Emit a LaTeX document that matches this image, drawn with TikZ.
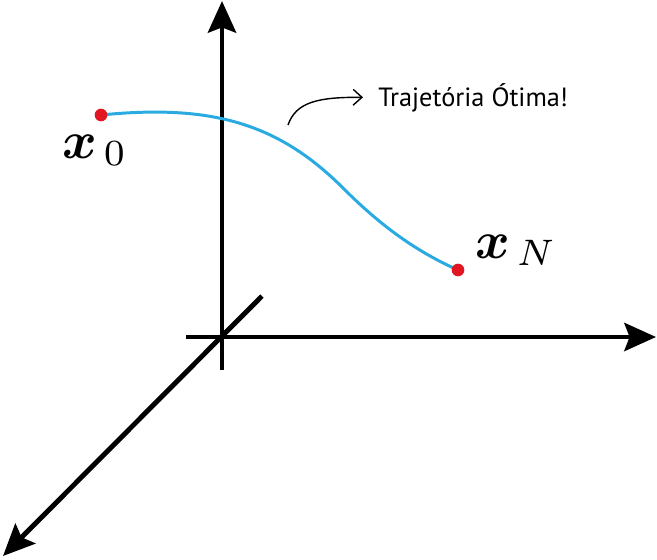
\documentclass[tikz,border=0pt]{standalone}
\usepackage{amsmath}
\usepackage{fontspec}
\newfontfamily\notefont{PT Sans}
\usepackage{xcolor}
\usepackage{tikz}
\usetikzlibrary{arrows.meta,positioning}

\definecolor{trajblue}{RGB}{41,171,226}
\definecolor{dotred}{RGB}{226,22,34}

\begin{document}
\begin{tikzpicture}[
  x=0.02cm, y=-0.02cm,
  axis/.style={line width=2.8pt, -{Stealth[length=18pt,width=16pt,inset=3pt]}},
  traj/.style={line width=1.7pt, trajblue},
  dot/.style={circle, fill=dotred, minimum size=7.2pt, inner sep=0pt},
  state/.style={scale=3.0, transform shape, inner sep=0pt, anchor=base west},
  note/.style={font=\notefont\fontsize{15}{18}\selectfont, inner xsep=8.5pt, inner ysep=0pt, anchor=base west},
  pointer/.style={line width=0.8pt, -{Straight Barb[length=5pt,width=9pt]}}
]
\useasboundingbox (0,0) rectangle (657,559);

% axes
\coordinate (origin) at (222,337);
\coordinate (ztop) at (222,1);
\coordinate (zbot) at (222,370);
\coordinate (xleft) at (186,337);
\coordinate (xright) at (656,337);
\coordinate (yback) at (262,296);
\coordinate (yfront) at (3,556);

\draw[axis] (zbot) -- (ztop);
\draw[axis] (xleft) -- (xright);
\draw[axis] (yback) -- (yfront);

% trajectory
\coordinate (start) at (101,115);
\coordinate (bend) at (343,188);
\coordinate (goal) at (458,270);
\draw[traj] (start) .. controls (211,104) and (278,123) .. (bend)
  .. controls (378,223) and (413,250) .. (goal);

\node[dot] (p0) at (start) {};
\node[dot] (pN) at (goal) {};

\node[state] (x0) at (61,158) {$\boldsymbol{x}_{\mkern3mu 0}$};
\node[state] (xN) at (474,258) {$\boldsymbol{x}_{\mkern3mu N}$};

% annotation
\node[note] (label) at (363,106) {Trajetória Ótima!};
\coordinate (tail) at (288,125);
\draw[pointer] (tail) .. controls (296,102) and (318,97) .. (label.west);
\end{tikzpicture}
\end{document}
